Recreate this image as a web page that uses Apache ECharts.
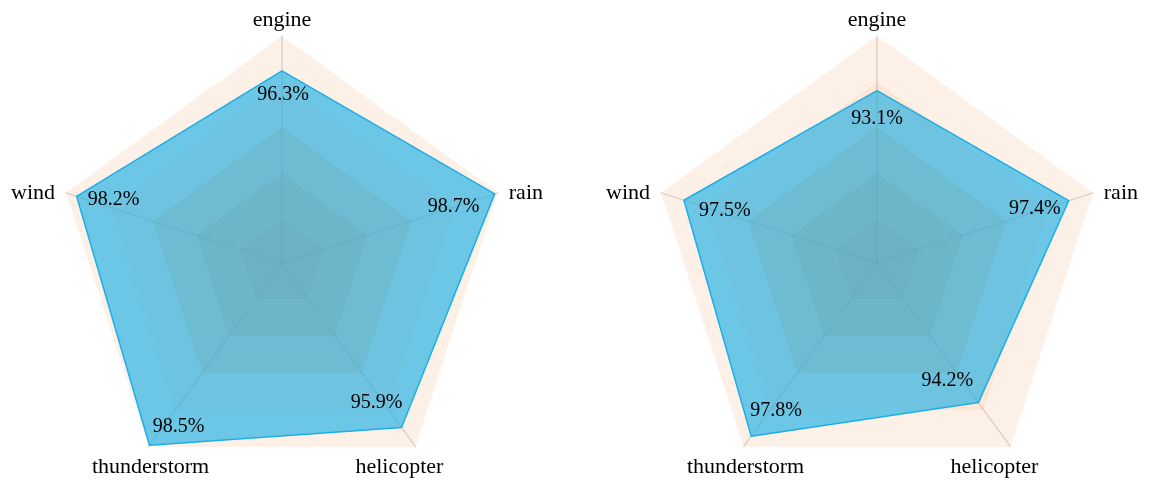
<!DOCTYPE html>
<html>
<head>
<meta charset="utf-8">
<script src="https://cdn.jsdelivr.net/npm/echarts@6/dist/echarts.min.js"></script>
<style>
  html, body { margin: 0; padding: 0; background: #fff; }
  #chart { width: 1154px; height: 481px; }
</style>
</head>
<body>
<div id="chart"></div>
<script>
  // indicator order follows echarts radar: top, then counter-clockwise
  const indicatorNames = ['engine', 'wind', 'thunderstorm', 'helicopter', 'rain']
  const indicatorMin = [65, 86.5, 84.6, 84.7, 85.5]
  const indicatorMax = [102, 98.8, 98.6, 97.2, 98.9]
  const leftValues = [96.3, 98.2, 98.5, 95.9, 98.7]
  const rightValues = [93.1, 97.5, 97.8, 94.2, 97.4]
  // label shift from vertex, per indicator
  const leftLabelOffsets = [[1, 24], [37, 3], [29, -19], [-25, -25], [-41, 13]]
  const rightLabelOffsets = [[0, 28], [41, 10], [25, -25], [-31, -22], [-34, 8]]
  // axis name shift from the outer vertex, per indicator
  const nameOffsets = [[0, -16], [-33, 0], [2, 21], [-16, 21], [28, 0]]

  const font = '"Liberation Serif", "Times New Roman", serif'

  // padding that moves a centred text box by (dx, dy)
  function shiftPadding(off) {
    const dx = off[0], dy = off[1]
    return [Math.max(0, 2 * dy), Math.max(0, -2 * dx), Math.max(0, -2 * dy), Math.max(0, 2 * dx)]
  }

  const nameRich = {}
  indicatorNames.forEach((n, i) => {
    nameRich['n' + i] = { color: '#000', fontSize: 22, fontFamily: font, padding: shiftPadding(nameOffsets[i]) }
  })

  function makeRadar(center) {
    return {
      center: center,
      radius: 227,
      startAngle: 90,
      splitNumber: 5,
      shape: 'polygon',
      indicator: indicatorNames.map((n, i) => ({ name: n, min: indicatorMin[i], max: indicatorMax[i] })),
      axisName: {
        color: '#000',
        fontSize: 22,
        fontFamily: font,
        align: 'center',
        verticalAlign: 'middle',
        formatter: function (name) {
          return '{n' + indicatorNames.indexOf(name) + '|' + name + '}'
        },
        rich: nameRich
      },
      nameGap: 0,
      axisLine: { lineStyle: { color: 'rgba(150,140,130,0.3)', width: 1.5 } },
      splitLine: { show: false },
      splitArea: {
        show: true,
        areaStyle: { color: ['#ffb685', '#ffc193', '#ffd2ab', '#fee6d4', '#fdf0e6'] }
      }
    }
  }

  function makeSeries(radarIndex, values, offsets) {
    const items = [{
      value: values,
      symbol: 'none',
      lineStyle: { color: '#1aaee6', width: 1.5 },
      areaStyle: { color: '#1eb0e6', opacity: 0.65 },
      label: { show: false }
    }]
    offsets.forEach((off, k) => {
      items.push({
        value: values,
        symbol: 'circle',
        symbolSize: 0,
        itemStyle: { color: 'transparent' },
        lineStyle: { width: 0, opacity: 0 },
        label: {
          show: true,
          position: 'inside',
          offset: off,
          color: '#000',
          fontSize: 20,
          fontFamily: font,
          formatter: function (p) {
            const d = p.dimensionIndex != null ? p.dimensionIndex : values.indexOf(p.value)
            return d === k ? values[k] + '%' : ''
          }
        }
      })
    })
    return {
      type: 'radar',
      radarIndex: radarIndex,
      silent: true,
      animation: false,
      data: items
    }
  }

  const chart = echarts.init(document.getElementById('chart'))
  chart.setOption({
    animation: false,
    radar: [makeRadar([282, 263]), makeRadar([877, 263])],
    series: [
      makeSeries(0, leftValues, leftLabelOffsets),
      makeSeries(1, rightValues, rightLabelOffsets)
    ]
  })
</script>
</body>
</html>
